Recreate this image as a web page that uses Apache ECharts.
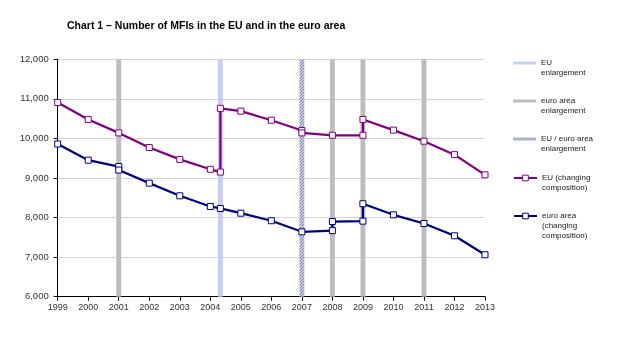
<!DOCTYPE html>
<html>
<head>
<meta charset="utf-8">
<script src="https://cdn.jsdelivr.net/npm/echarts@6/dist/echarts.min.js"></script>
<style>
html,body{margin:0;padding:0;background:#fff;}
#chart{width:623px;height:354px;}
</style>
</head>
<body>
<div id="chart"></div>
<script>
// ---- Data ----
var titleText = 'Chart 1 \u2013 Number of MFIs in the EU and in the euro area';
var yTicks = [6000, 7000, 8000, 9000, 10000, 11000, 12000];
var xTicks = [1999, 2000, 2001, 2002, 2003, 2004, 2005, 2006, 2007, 2008, 2009, 2010, 2011, 2012, 2013];

var euName = 'EU (changing\ncomposition)';
var euYears  = [1999, 2000, 2001, 2002, 2003, 2004, 2004.33, 2004.33, 2005, 2006, 2007, 2007, 2008, 2009, 2009, 2010, 2011, 2012, 2013];
var euValues = [10910, 10480, 10140, 9770, 9470, 9220, 9150, 10760, 10690, 10460, 10200, 10140, 10080, 10080, 10480, 10210, 9930, 9590, 9080];

var euroName = 'euro area\n(changing\ncomposition)';
var euroYears  = [1999, 2000, 2001, 2001, 2002, 2003, 2004, 2004.33, 2005, 2006, 2007, 2008, 2008, 2009, 2009, 2010, 2011, 2012, 2013];
var euroValues = [9860, 9450, 9290, 9200, 8870, 8550, 8280, 8230, 8110, 7920, 7640, 7670, 7900, 7910, 8350, 8070, 7850, 7540, 7060];

var euEnlargeName = 'EU\nenlargement';
var euEnlargements = [2004.33];
var euroEnlargeName = 'euro area\nenlargement';
var euroEnlargements = [2001, 2008, 2009, 2011];
var bothEnlargeName = 'EU / euro area\nenlargement';
var bothEnlargements = [2007];

// ---- Styles ----
var BAND_HALF = 0.08;
var euColor = '#800080';
var euroColor = '#000080';
var euBandColor = '#c9ccf6';
var euroBandColor = '#bdbdbd';

function makeHatch() {
  var c = document.createElement('canvas');
  c.width = 3; c.height = 3;
  var ctx = c.getContext('2d');
  ctx.fillStyle = '#c9cce0';
  ctx.fillRect(0, 0, 3, 3);
  ctx.fillStyle = '#7c82a5';
  for (var i = 0; i < 3; i++) { ctx.fillRect(i, 2 - i, 1, 1); }
  return { image: c, repeat: 'repeat' };
}
var hatch = makeHatch();

function pairs(xs, ys) { return xs.map(function (x, i) { return [x, ys[i]]; }); }
function bands(xs) {
  return xs.map(function (x) { return [{ xAxis: x - BAND_HALF }, { xAxis: x + BAND_HALF }]; });
}
function bandSeries(name, xs, color) {
  return {
    name: name, type: 'line', data: [], z: 1, silent: true,
    markArea: { silent: true, itemStyle: { color: color, opacity: 1 }, label: { show: false }, data: bands(xs) }
  };
}
function lineSeries(name, xs, ys, color) {
  return {
    name: name, type: 'line', data: pairs(xs, ys), z: 3, clip: false,
    symbol: 'rect', symbolSize: 6, showAllSymbol: true,
    lineStyle: { color: color, width: 2.25 },
    itemStyle: { color: '#ffffff', borderColor: color, borderWidth: 1 },
    emphasis: { disabled: true }
  };
}

var legendText = { fontFamily: 'Liberation Sans, Arial, sans-serif', fontSize: 8, lineHeight: 10, color: '#222' };
// leading blank lines put the first text line level with the icon
function legendBlock(top, item, iconH, lines) {
  var lead = new Array(lines).join('\n');
  return {
    left: 513, top: top, orient: 'vertical', padding: 0,
    itemWidth: 23, itemHeight: iconH, selectedMode: false,
    textStyle: legendText,
    formatter: function (name) { return lead + name; },
    data: [item]
  };
}

var chart = echarts.init(document.getElementById('chart'), null, { renderer: 'canvas' });
chart.setOption({
  animation: false,
  backgroundColor: '#ffffff',
  title: {
    text: titleText, left: 67, top: 21, padding: 0,
    textStyle: { fontFamily: 'Liberation Sans, Arial, sans-serif', fontSize: 10.5, fontWeight: 'bold', color: '#000' }
  },
  legend: [
    legendBlock(48, { name: euEnlargeName, icon: 'rect', itemStyle: { color: euBandColor } }, 3, 2),
    legendBlock(86, { name: euroEnlargeName, icon: 'rect', itemStyle: { color: euroBandColor } }, 3, 2),
    legendBlock(124, { name: bothEnlargeName, icon: 'rect', itemStyle: { color: hatch } }, 3, 2),
    legendBlock(163, { name: euName, itemStyle: { color: '#fff', borderColor: euColor, borderWidth: 1 } }, 7, 2),
    legendBlock(191, { name: euroName, itemStyle: { color: '#fff', borderColor: euroColor, borderWidth: 1 } }, 7, 3)
  ],
  grid: { left: 57.7, right: 138, top: 59.3, bottom: 57.3, containLabel: false },
  xAxis: {
    type: 'value', min: xTicks[0], max: xTicks[xTicks.length - 1], interval: 1,
    axisLine: { show: true, lineStyle: { color: '#000', width: 1 } },
    axisTick: { show: true, inside: false, length: 4, lineStyle: { color: '#000' } },
    splitLine: { show: false },
    axisLabel: { margin: 6, fontFamily: 'Liberation Sans, Arial, sans-serif', fontSize: 9, color: '#333',
      formatter: function (v) { return String(v); } }
  },
  yAxis: {
    type: 'value', min: yTicks[0], max: yTicks[yTicks.length - 1], interval: 1000,
    axisLine: { show: true, lineStyle: { color: '#000', width: 1 } },
    axisTick: { show: true, inside: false, length: 4, lineStyle: { color: '#000' } },
    splitLine: { show: true, lineStyle: { color: '#d4d4d4', width: 1 } },
    axisLabel: { margin: 9, fontFamily: 'Liberation Sans, Arial, sans-serif', fontSize: 9.5, color: '#333',
      formatter: function (v) { return v.toLocaleString('en-US'); } }
  },
  series: [
    bandSeries(euEnlargeName, euEnlargements, euBandColor),
    bandSeries(euroEnlargeName, euroEnlargements, euroBandColor),
    bandSeries(bothEnlargeName, bothEnlargements, hatch),
    lineSeries(euName, euYears, euValues, euColor),
    lineSeries(euroName, euroYears, euroValues, euroColor)
  ]
});
</script>
</body>
</html>
